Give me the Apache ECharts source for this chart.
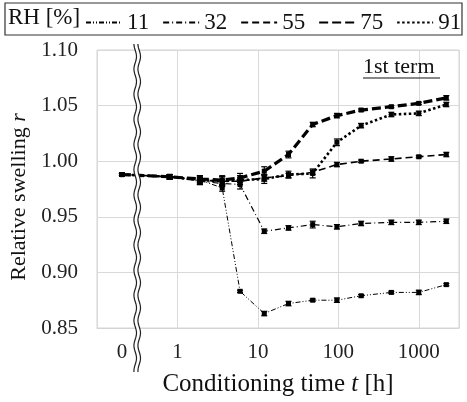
<!DOCTYPE html>
<html>
<head>
<meta charset="utf-8">
<script src="https://cdn.jsdelivr.net/npm/echarts@6/dist/echarts.min.js"></script>
<style>
  html, body { margin: 0; padding: 0; background: #fff; }
  #chart { width: 467px; height: 402px; }
</style>
</head>
<body>
<div id="chart"></div>
<script>
// conditioning times in hours (0 is drawn left of the axis break)
var times = [0, 0.8, 1.9, 3.6, 6, 12, 24, 48, 96, 192, 456, 1000, 2200]

var rh11 = [0.988, 0.986, 0.983, 0.976, 0.883, 0.863, 0.872, 0.875, 0.875, 0.879, 0.882, 0.882, 0.889]
var rh32 = [0.988, 0.986, 0.982, 0.980, 0.979, 0.937, 0.940, 0.943, 0.941, 0.944, 0.945, 0.945, 0.946]
var rh55 = [0.988, 0.986, 0.983, 0.982, 0.982, 0.985, 0.987, 0.990, 0.997, 1.000, 1.002, 1.004, 1.006]
var rh75 = [0.988, 0.986, 0.984, 0.983, 0.985, 0.991, 1.006, 1.033, 1.041, 1.046, 1.049, 1.052, 1.057]
var rh91 = [0.988, 0.986, 0.983, 0.982, 0.983, 0.984, 0.988, 0.989, 1.017, 1.032, 1.042, 1.043, 1.051]

// error bar half-widths
var err11 = [0.001, 0.002, 0.002, 0.003, 0.001, 0.002, 0.002, 0.001, 0.002, 0.001, 0.001, 0.002, 0.001]
var err32 = [0.001, 0.002, 0.003, 0.003, 0.004, 0.002, 0.002, 0.003, 0.002, 0.002, 0.002, 0.002, 0.002]
var err55 = [0.001, 0.002, 0.003, 0.004, 0.003, 0.003, 0.002, 0.002, 0.002, 0.001, 0.002, 0.001, 0.002]
var err75 = [0.001, 0.002, 0.003, 0.004, 0.004, 0.004, 0.003, 0.002, 0.002, 0.001, 0.001, 0.001, 0.002]
var err91 = [0.001, 0.002, 0.004, 0.004, 0.004, 0.004, 0.003, 0.004, 0.003, 0.002, 0.002, 0.002, 0.002]

var xTickLabels = ['0', '1', '10', '100', '1000']

var ZERO_POS = -0.69
var FONT = 'Liberation Serif'

function pos(t) {
  return t === 0 ? ZERO_POS : Math.log10(t)
}

function pairs(vals) {
  return times.map(function (t, i) { return [pos(t), vals[i]] })
}
function triples(vals, errs) {
  return times.map(function (t, i) { return [pos(t), vals[i], errs[i]] })
}

function errBars(params, api) {
  var x = api.value(0), y = api.value(1), e = api.value(2)
  var p = api.coord([x, y])
  var lo = api.coord([x, y - e])
  var hi = api.coord([x, y + e])
  var st = { stroke: '#000', lineWidth: 1.2 }
  return {
    type: 'group',
    children: [
      { type: 'line', shape: { x1: p[0], y1: lo[1], x2: p[0], y2: hi[1] }, style: st },
      { type: 'line', shape: { x1: p[0] - 3, y1: lo[1], x2: p[0] + 3, y2: lo[1] }, style: st },
      { type: 'line', shape: { x1: p[0] - 3, y1: hi[1], x2: p[0] + 3, y2: hi[1] }, style: st },
      { type: 'rect', shape: { x: p[0] - 2.5, y: p[1] - 2.5, width: 5, height: 5 }, style: { fill: '#000' } }
    ]
  }
}

var lineDefs = [
  { name: '11', data: rh11, err: err11, style: { width: 1, type: [5, 2, 1, 2, 1, 2] } },
  { name: '32', data: rh32, err: err32, style: { width: 1.2, type: [6, 3, 1, 3] } },
  { name: '55', data: rh55, err: err55, style: { width: 1.6, type: [7, 4] } },
  { name: '75', data: rh75, err: err75, style: { width: 3.2, type: [9, 4] } },
  { name: '91', data: rh91, err: err91, style: { width: 2.6, type: [2.5, 2.5] } }
]

var series = []
lineDefs.forEach(function (d) {
  series.push({
    name: d.name,
    type: 'line',
    data: pairs(d.data),
    symbol: 'none',
    lineStyle: { color: '#000', width: d.style.width, type: d.style.type },
    itemStyle: { color: '#000' },
    animation: false
  })
  series.push({
    name: d.name + '-err',
    type: 'custom',
    data: triples(d.data, d.err),
    renderItem: errBars,
    z: 3,
    animation: false
  })
})

var chart = echarts.init(document.getElementById('chart'))
chart.setOption({
  backgroundColor: '#fff',
  animation: false,
  grid: {
    left: 97, right: 8, top: 50, bottom: 74,
    show: true, borderColor: '#d4d4d4', borderWidth: 1
  },
  legend: {
    left: 80, top: 6,
    data: lineDefs.map(function (d) { return d.name }),
    itemWidth: 36, itemHeight: 14, itemGap: 13,
    itemStyle: { opacity: 0 },
    textStyle: { fontFamily: FONT, fontSize: 23, color: '#111' }
  },
  xAxis: {
    type: 'value',
    min: -1, max: 3.5, interval: 1,
    axisLine: { lineStyle: { color: '#d4d4d4' } },
    axisTick: { show: false },
    splitLine: { lineStyle: { color: '#d9d9d9', width: 1 } },
    axisLabel: {
      customValues: [ZERO_POS, 0, 1, 2, 3],
      margin: 14,
      fontFamily: FONT, fontSize: 21, color: '#222',
      formatter: function (v) {
        if (Math.abs(v - ZERO_POS) < 1e-6) return xTickLabels[0]
        return xTickLabels[Math.round(v) + 1] || ''
      }
    },
    name: '{a|Conditioning time }{i|t}{a| [h]}',
    nameLocation: 'middle',
    nameGap: 44,
    nameTextStyle: {
      rich: {
        a: { fontFamily: FONT, fontSize: 25, color: '#111' },
        i: { fontFamily: FONT, fontSize: 25, fontStyle: 'italic', color: '#111' }
      }
    }
  },
  yAxis: {
    type: 'value',
    min: 0.85, max: 1.10, interval: 0.05,
    axisLine: { show: false },
    axisTick: { show: false },
    splitLine: { lineStyle: { color: '#d9d9d9', width: 1 } },
    axisLabel: {
      margin: 19,
      fontFamily: FONT, fontSize: 21, color: '#222',
      formatter: function (v) { return v.toFixed(2) }
    },
    name: '{a|Relative swelling }{i|r}',
    nameLocation: 'middle',
    nameGap: 59,
    nameTextStyle: {
      padding: [0, 16, 0, 0],
      rich: {
        a: { fontFamily: FONT, fontSize: 22, color: '#111' },
        i: { fontFamily: FONT, fontSize: 22, fontStyle: 'italic', color: '#111' }
      }
    }
  },
  series: series
})

// legend frame, legend title, "1st term" label and the axis break
var bx = chart.convertToPixel({ gridIndex: 0 }, [-0.5, 1.0])[0]
function wavy(x0, yTop, yBot) {
  var pts = []
  for (var y = yTop; y <= yBot; y += 2) {
    pts.push([x0 + 1.3 * Math.sin(y / 4), y])
  }
  return pts
}
chart.setOption({
  graphic: [
    { type: 'rect', shape: { x: 5, y: 3, width: 457, height: 32 },
      style: { fill: 'none', stroke: '#333', lineWidth: 1.2 } },
    { type: 'text', left: 8, top: 6,
      style: { text: 'RH [%]', fontFamily: FONT, fontSize: 23, fill: '#111' } },
    { type: 'text', left: 363, top: 56,
      style: { text: '1st term', fontFamily: FONT, fontSize: 22, fill: '#111' } },
    { type: 'line', shape: { x1: 363, y1: 78, x2: 440, y2: 78 },
      style: { stroke: '#111', lineWidth: 1.2 } },
    { type: 'polygon', z: 10,
      shape: { points: wavy(bx - 2, 44, 372).concat(wavy(bx + 2, 44, 372).reverse()) },
      style: { fill: '#fff', stroke: null } },
    { type: 'polyline', z: 11, shape: { points: wavy(bx - 2, 44, 372) },
      style: { stroke: '#222', lineWidth: 1.2, fill: null } },
    { type: 'polyline', z: 11, shape: { points: wavy(bx + 2, 44, 372) },
      style: { stroke: '#222', lineWidth: 1.2, fill: null } }
  ]
})
</script>
</body>
</html>
